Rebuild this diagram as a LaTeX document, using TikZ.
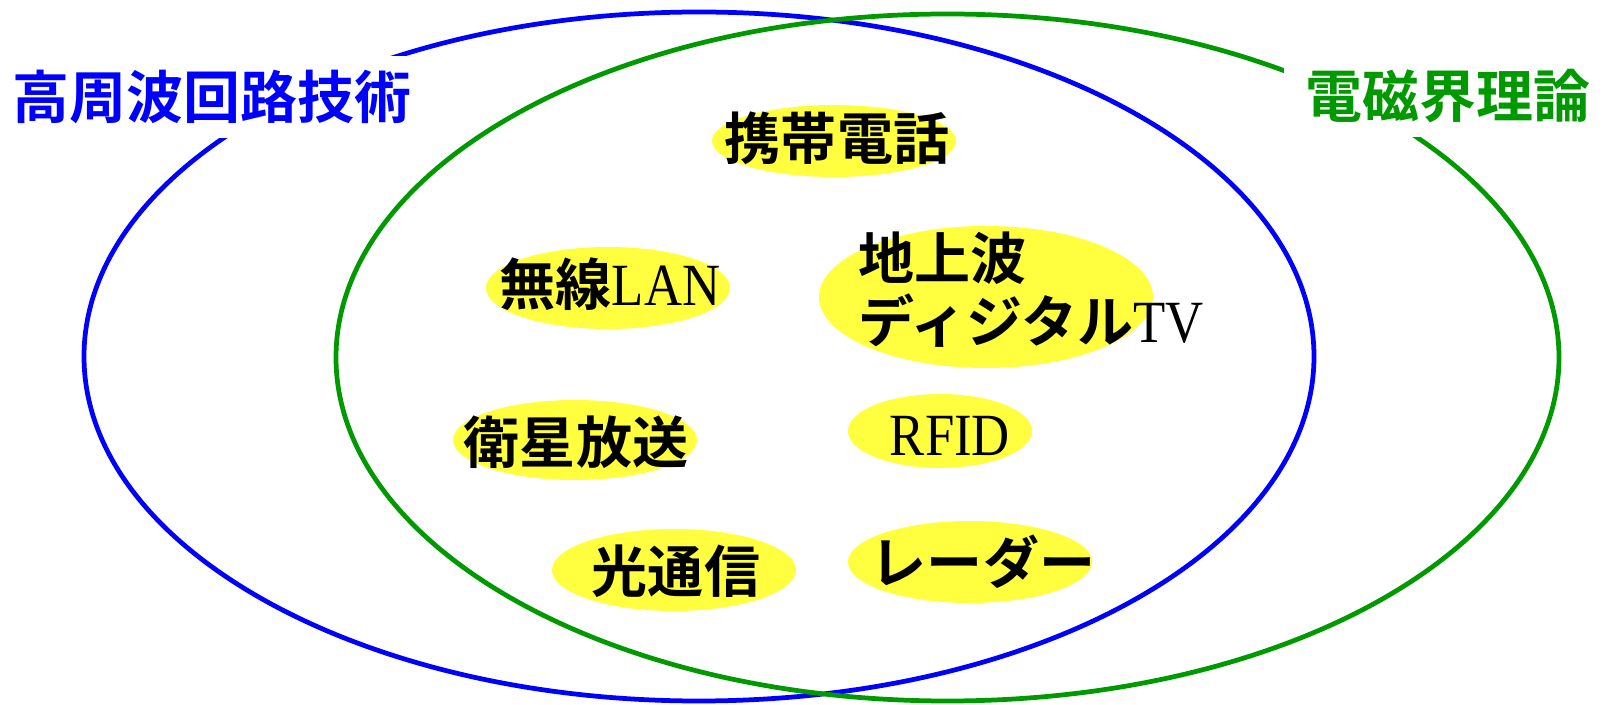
\documentclass[tikz,border=0pt]{standalone}
\usepackage{fontspec}
\newfontfamily\jpfont{Noto Sans CJK JP Bold}
\newfontfamily\latfont{Liberation Serif}[FakeStretch=0.88]
\newcommand\lat[1]{{\latfont\fontsize{34.1}{36}\selectfont #1}}
\definecolor{venngreen}{RGB}{0,153,0}
\definecolor{appyellow}{RGB}{255,255,64}
\tikzset{
  field/.style={line width=0.095cm},
  app/.style={fill=appyellow},
  apptext/.style={font=\jpfont\fontsize{31.9}{35.7}\selectfont,inner sep=0pt},
  fieldlabel/.style={font=\jpfont\fontsize{32.4}{36}\selectfont,fill=white,inner xsep=0.44cm,inner ysep=0.28cm}
}
\begin{document}
\begin{tikzpicture}[x=0.02cm,y=-0.02cm]
\useasboundingbox (0,0) rectangle (1607,705);
%\path[draw] (699,356.5) circle (2);
\draw[field,blue] (699,356.5) ellipse [x radius=615, y radius=344.5];
\draw[field,venngreen] (947.5,357.5) ellipse [x radius=611.5, y radius=343.5];
\fill[app] (834,141) ellipse [x radius=122, y radius=36];
\fill[app] (608,288) ellipse [x radius=122, y radius=41];
\fill[app] (986,297) ellipse [x radius=167, y radius=71];
\fill[app] (575,440) ellipse [x radius=122, y radius=40];
\fill[app] (940,431) ellipse [x radius=92, y radius=37];
\fill[app] (674,570) ellipse [x radius=122, y radius=41];
\fill[app] (970,562) ellipse [x radius=122, y radius=41];
\path (837,138) node[apptext] (keitai) {携帯電話};
\path (610,284) node[apptext] (lan) {無線\lat{LAN}};
\path (858,232) node[apptext,anchor=north west,align=left] (dtv) {地上波\\ディジタル\lat{TV}};
\path (576,442) node[apptext] (eisei) {衛星放送};
\path (950,436) node[apptext] (rfid) {\lat{RFID}};
\path (676,571) node[apptext] (hikari) {光通信};
\path (983,562) node[apptext] (radar) {レーダー};
\path (212,97) node[fieldlabel,text=blue] (hf) {高周波回路技術};
\path (1448,96) node[fieldlabel,text=venngreen] (em) {電磁界理論};
\end{tikzpicture}
\end{document}
